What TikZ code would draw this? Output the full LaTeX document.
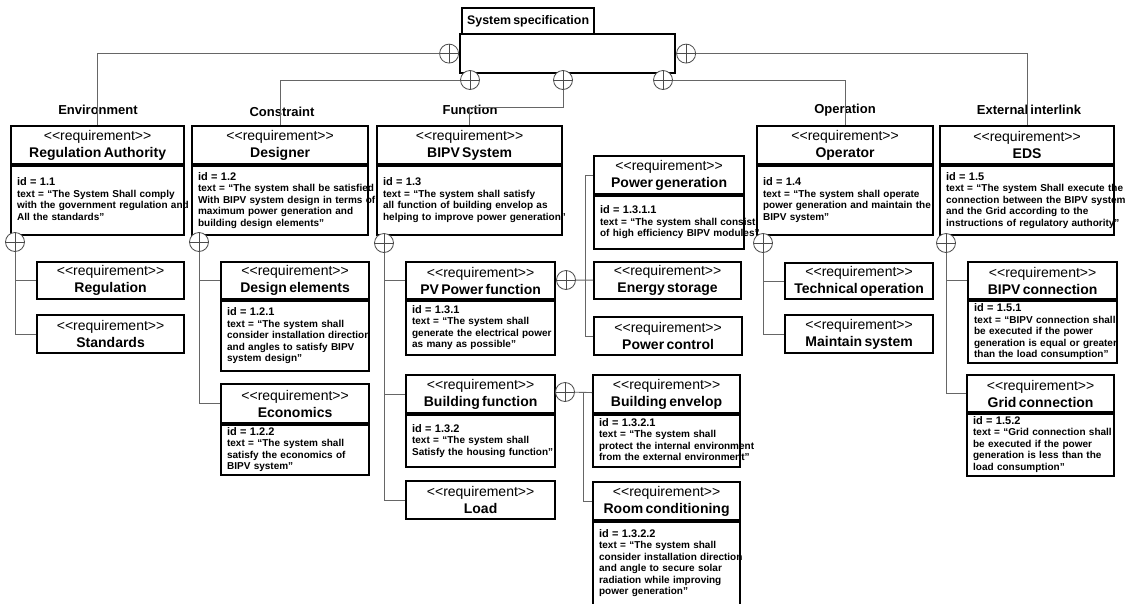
\documentclass[tikz,border=0pt]{standalone}
\usepackage{fontspec}
\setmainfont{Liberation Sans}[WordSpace=0.6]
\usetikzlibrary{positioning}
\newcommand{\stereo}{<\kern0pt<requirement>\kern0pt>}
\newcommand{\idline}[1]{{\fontsize{11}{11.5}\selectfont id = #1}}
\newcommand{\reqtext}[1]{\begin{tabular}{@{}l@{}}#1\end{tabular}}
\tikzset{
	reqhead/.style = {
		draw, line width=2.2pt, anchor=north west, align=center, inner sep=0pt,
		minimum height=38pt, font=\fontsize{14}{17}\selectfont
	}
}
\tikzset{
	reqbody/.style = {
		draw, line width=2.2pt, anchor=north, align=left, inner xsep=6pt, inner ysep=2pt,
		font=\fontsize{10}{11.5}\bfseries\selectfont
	}
}
\tikzset{
	contain/.style = {
		circle, draw=black!70, line width=0.8pt, fill=white, minimum size=19pt, inner sep=0pt,
		path picture={\draw[black!70, line width=0.8pt]
			(path picture bounding box.north) -- (path picture bounding box.south)
			(path picture bounding box.west) -- (path picture bounding box.east);}
	}
}
\tikzset{
	link/.style = {
		draw=black!60, line width=0.9pt
	}
}
\tikzset{
	category/.style = {
		font=\fontsize{13}{15}\bfseries\selectfont, inner sep=0pt
	}
}

\begin{document}
\begin{tikzpicture}[x=1pt, y=-1pt]
	\useasboundingbox (0,0) rectangle (1127,603);

	% system specification block
	\node[draw, line width=2.2pt, anchor=north west, minimum width=132pt, minimum height=26pt,
		font=\fontsize{12.4}{14}\bfseries\selectfont] (SpecTitle) at (461,7) {System specification};
	\node[draw, line width=2.2pt, anchor=north west, minimum width=215pt, minimum height=39pt] (Spec) at (459,33) {};
	\node[contain, left=0pt of Spec] (cEnv) {};
	\node[contain, right=0pt of Spec] (cExt) {};
	\node[contain] (cCon) at (470,80) {};
	\node[contain] (cFun) at (563,80) {};
	\node[contain] (cOp) at (663,80) {};

	% categories
	\node[category] (lEnv) at (98,110) {Environment};
	\node[category] (lCon) at (282,112) {Constraint};
	\node[category] (lFun) at (470,110) {Function};
	\node[category] (lOp) at (845,110) {Operation};
	\node[category] (lExt) at (1029,110) {External interlink};

	% top level requirements
	\node[reqhead, minimum width=173pt] (RegAuth) at (10,125) {\stereo\\\textbf{Regulation Authority}};
	\node[reqbody, text width=161pt, minimum height=69pt, below=0pt of RegAuth] (RegAuthBody) {\reqtext{\idline{1.1}\\
		text = “The System Shall comply\\
		with the government regulation and\\
		All the standards”}};
	\node[reqhead, minimum width=176pt] (Designer) at (191,125) {\stereo\\\textbf{Designer}};
	\node[reqbody, text width=164pt, minimum height=69pt, below=0pt of Designer] (DesignerBody) {\reqtext{\idline{1.2}\\
		text = “The system shall be satisfied\\
		With BIPV system design in terms of\\
		maximum power generation and\\
		building design elements”}};
	\node[reqhead, minimum width=185pt] (BIPVSys) at (376,125) {\stereo\\\textbf{BIPV System}};
	\node[reqbody, text width=173pt, minimum height=69pt, below=0pt of BIPVSys] (BIPVSysBody) {\reqtext{\idline{1.3}\\
		text = “The system shall satisfy\\
		all function of building envelop as\\
		helping to improve power generation”}};
	\node[reqhead, minimum width=176pt] (Operator) at (756,125) {\stereo\\\textbf{Operator}};
	\node[reqbody, text width=164pt, minimum height=69pt, below=0pt of Operator] (OperatorBody) {\reqtext{\idline{1.4}\\
		text = “The system shall operate\\
		power generation and maintain the\\
		BIPV system”}};
	\node[reqhead, minimum width=174pt] (EDS) at (939,125) {\stereo\\\textbf{EDS}};
	\node[reqbody, text width=162pt, minimum height=69pt, below=0pt of EDS] (EDSBody) {\reqtext{\idline{1.5}\\
		text = “The system Shall execute the\\
		connection between the BIPV system\\
		and the Grid according to the\\
		instructions of regulatory authority”}};

	% environment
	\node[reqhead, minimum width=147pt, minimum height=37pt] (Reg) at (36,261) {\stereo\\\textbf{Regulation}};
	\node[reqhead, minimum width=147pt] (Standards) at (36,314) {\stereo\\\textbf{Standards}};
	\node[contain] (cRegAuth) at (15,242) {};

	% constraint
	\node[reqhead, minimum width=148pt, minimum height=37pt] (DesignEl) at (220,261) {\stereo\\\textbf{Design elements}};
	\node[reqbody, text width=136pt, minimum height=70pt, below=0pt of DesignEl] (DesignElBody) {\reqtext{\idline{1.2.1}\\
		text = “The system shall\\
		consider installation direction\\
		and angles to satisfy BIPV\\
		system design”}};
	\node[reqhead, minimum width=148pt, minimum height=39pt] (Economics) at (220,383) {\stereo\\\textbf{Economics}};
	\node[reqbody, text width=136pt, minimum height=49pt, below=0pt of Economics] (EconomicsBody) {\reqtext{\idline{1.2.2}\\
		text = “The system shall\\
		satisfy the economics of\\
		BIPV system”}};
	\node[contain] (cDesigner) at (199,242) {};

	% function
	\node[reqhead, minimum width=149pt, minimum height=37pt] (PVPower) at (405,261) {\stereo\\\textbf{PV Power function}};
	\node[reqbody, text width=137pt, minimum height=54pt, below=0pt of PVPower] (PVPowerBody) {\reqtext{\idline{1.3.1}\\
		text = “The system shall\\
		generate the electrical power\\
		as many as possible”}};
	\node[reqhead, minimum width=149pt] (BuildFn) at (405,374) {\stereo\\\textbf{Building function}};
	\node[reqbody, text width=137pt, minimum height=52pt, below=0pt of BuildFn] (BuildFnBody) {\reqtext{\idline{1.3.2}\\
		text = “The system shall\\
		Satisfy the housing function”}};
	\node[reqhead, minimum width=149pt] (Load) at (405,480) {\stereo\\\textbf{Load}};
	\node[contain] (cBIPV) at (384,243) {};

	\node[reqhead, minimum width=150pt] (PowerGen) at (593,155) {\stereo\\\textbf{Power generation}};
	\node[reqbody, text width=138pt, minimum height=53pt, below=0pt of PowerGen] (PowerGenBody) {\reqtext{\idline{1.3.1.1}\\
		text = “The system shall consist\\
		of high efficiency BIPV modules”}};
	\node[reqhead, minimum width=147pt, minimum height=37pt] (EnergySt) at (593,261) {\stereo\\\textbf{Energy storage}};
	\node[reqhead, minimum width=148pt] (PowerCtl) at (593,316) {\stereo\\\textbf{Power control}};
	\node[contain] (cPVPower) at (566,280) {};
	\coordinate (pvBus) at (585,280);

	\node[reqhead, minimum width=147pt] (BuildEnv) at (592,374) {\stereo\\\textbf{Building envelop}};
	\node[reqbody, text width=135pt, minimum height=52pt, below=0pt of BuildEnv] (BuildEnvBody) {\reqtext{\idline{1.3.2.1}\\
		text = “The system shall\\
		protect the internal environment\\
		from the external environment”}};
	\node[reqhead, minimum width=147pt] (RoomCond) at (592,481) {\stereo\\\textbf{Room conditioning}};
	\node[reqbody, text width=135pt, minimum height=83pt, below=0pt of RoomCond] (RoomCondBody) {\reqtext{\idline{1.3.2.2}\\
		text = “The system shall\\
		consider installation direction\\
		and angle to secure solar\\
		radiation while improving\\
		power generation”}};
	\node[contain] (cBuildFn) at (565,392) {};
	\coordinate (bfBus) at (583,392);

	% operation
	\node[reqhead, minimum width=148pt, minimum height=36pt] (TechOp) at (784,262) {\stereo\\\textbf{Technical operation}};
	\node[reqhead, minimum width=148pt] (Maintain) at (784,314) {\stereo\\\textbf{Maintain system}};
	\node[contain] (cOperator) at (763,243) {};

	% external interlink
	\node[reqhead, minimum width=149pt, minimum height=37pt] (BIPVConn) at (967,261) {\stereo\\\textbf{BIPV connection}};
	\node[reqbody, text width=137pt, minimum height=62pt, below=0pt of BIPVConn] (BIPVConnBody) {\reqtext{\idline{1.5.1}\\
		text = “BIPV connection shall\\
		be executed if the power\\
		generation is equal or greater\\
		than the load consumption”}};
	\node[reqhead, minimum width=147pt, minimum height=37pt] (GridConn) at (966,374) {\stereo\\\textbf{Grid connection}};
	\node[reqbody, text width=135pt, minimum height=61pt, below=0pt of GridConn] (GridConnBody) {\reqtext{\idline{1.5.2}\\
		text = “Grid connection shall\\
		be executed if the power\\
		generation is less than the\\
		load consumption”}};
	\node[contain] (cEDS) at (946,243) {};

	\draw[link] (cEnv) -| (RegAuth);
	\draw[link] (cCon) -| (Designer);
	\draw[link] (cFun) -- ++(0,27) -| (BIPVSys);
	\draw[link] (cOp) -| (Operator);
	\draw[link] (cExt) -| (EDS);

	\draw[link] (cRegAuth) |- (Reg);
	\draw[link] (cRegAuth) |- (Standards);
	\draw[link] (cDesigner) |- (DesignEl);
	\draw[link] (cDesigner) |- (Economics);
	\draw[link] (cBIPV) |- (PVPower);
	\draw[link] (cBIPV) |- (BuildFn);
	\draw[link] (cBIPV) |- (Load);
	\draw[link] (cPVPower) -- (EnergySt);
	\draw[link] (pvBus) |- (PowerGen);
	\draw[link] (pvBus) |- (PowerCtl);
	\draw[link] (cBuildFn) -- (BuildEnv);
	\draw[link] (bfBus) |- (RoomCond);
	\draw[link] (cOperator) |- (TechOp);
	\draw[link] (cOperator) |- (Maintain);
	\draw[link] (cEDS) |- (BIPVConn);
	\draw[link] (cEDS) |- (GridConn);
\end{tikzpicture}
\end{document}
